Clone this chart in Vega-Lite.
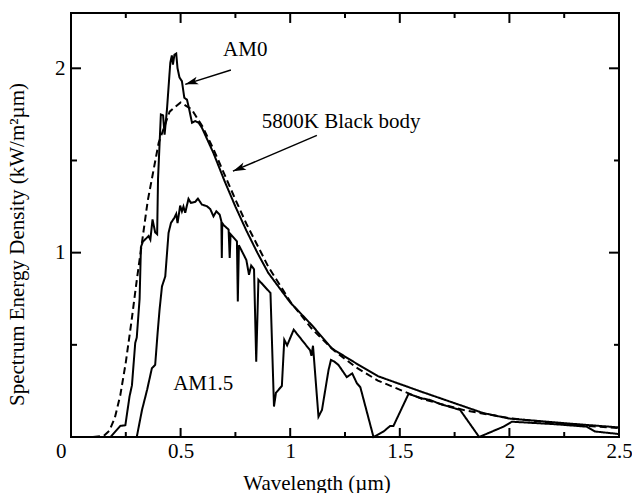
{
 "$schema": "https://vega.github.io/schema/vega-lite/v6.json",
 "width": 548, "height": 424,
 "autosize": {"type": "none"},
 "padding": {"left": 71, "top": 13, "right": 13, "bottom": 56},
 "background": "white",
 "config": {
  "view": {"stroke": "black", "strokeWidth": 2},
  "font": "Liberation Serif",
  "axis": {"domain": false, "grid": false, "ticks": false,
   "labelColor": "black", "labelFont": "Liberation Serif", "labelFontSize": 21,
   "titleFont": "Liberation Serif", "titleFontSize": 21, "titleFontWeight": "normal", "titleColor": "black",
   "labelOverlap": false, "labelFlush": false}
 },
 "datasets": {
  "spectra": [
   {"series":"AM0","wl":0,"val":0},{"series":"AM0","wl":0.18,"val":0},{"series":"AM0","wl":0.225,"val":0.06},{"series":"AM0","wl":0.248,"val":0.064},{"series":"AM0","wl":0.267,"val":0.22},{"series":"AM0","wl":0.278,"val":0.28},{"series":"AM0","wl":0.293,"val":0.51},{"series":"AM0","wl":0.3,"val":0.54},{"series":"AM0","wl":0.313,"val":0.75},{"series":"AM0","wl":0.319,"val":1.03},{"series":"AM0","wl":0.328,"val":1.06},{"series":"AM0","wl":0.354,"val":1.09},{"series":"AM0","wl":0.362,"val":1.07},{"series":"AM0","wl":0.372,"val":1.18},{"series":"AM0","wl":0.384,"val":1.11},{"series":"AM0","wl":0.393,"val":1.1},{"series":"AM0","wl":0.397,"val":1.4},{"series":"AM0","wl":0.41,"val":1.75},{"series":"AM0","wl":0.42,"val":1.745},{"series":"AM0","wl":0.427,"val":1.64},{"series":"AM0","wl":0.438,"val":1.78},{"series":"AM0","wl":0.453,"val":2.03},{"series":"AM0","wl":0.46,"val":2.07},{"series":"AM0","wl":0.465,"val":2.02},{"series":"AM0","wl":0.472,"val":2.074},{"series":"AM0","wl":0.48,"val":2.08},{"series":"AM0","wl":0.486,"val":2.0},{"series":"AM0","wl":0.495,"val":1.95},{"series":"AM0","wl":0.506,"val":1.93},{"series":"AM0","wl":0.517,"val":1.84},{"series":"AM0","wl":0.529,"val":1.83},{"series":"AM0","wl":0.536,"val":1.795},{"series":"AM0","wl":0.552,"val":1.705},{"series":"AM0","wl":0.567,"val":1.714},{"series":"AM0","wl":0.582,"val":1.705},{"series":"AM0","wl":0.597,"val":1.678},{"series":"AM0","wl":0.65,"val":1.54},{"series":"AM0","wl":0.7,"val":1.39},{"series":"AM0","wl":0.75,"val":1.25},{"series":"AM0","wl":0.8,"val":1.12},{"series":"AM0","wl":0.85,"val":1.0},{"series":"AM0","wl":0.9,"val":0.89},{"series":"AM0","wl":0.95,"val":0.81},{"series":"AM0","wl":1.0,"val":0.73},{"series":"AM0","wl":1.1,"val":0.605},{"series":"AM0","wl":1.19,"val":0.48},{"series":"AM0","wl":1.3,"val":0.4},{"series":"AM0","wl":1.4,"val":0.33},{"series":"AM0","wl":1.6,"val":0.245},{"series":"AM0","wl":1.88,"val":0.13},{"series":"AM0","wl":2.0,"val":0.1},{"series":"AM0","wl":2.25,"val":0.075},{"series":"AM0","wl":2.5,"val":0.052},

   {"series":"BB","wl":0,"val":0},{"series":"BB","wl":0.1,"val":0},{"series":"BB","wl":0.15,"val":0.007},{"series":"BB","wl":0.175,"val":0.034},{"series":"BB","wl":0.2,"val":0.104},{"series":"BB","wl":0.225,"val":0.227},{"series":"BB","wl":0.25,"val":0.405},{"series":"BB","wl":0.275,"val":0.619},{"series":"BB","wl":0.3,"val":0.85},{"series":"BB","wl":0.35,"val":1.281},{"series":"BB","wl":0.4,"val":1.596},{"series":"BB","wl":0.45,"val":1.765},{"series":"BB","wl":0.5,"val":1.815},{"series":"BB","wl":0.55,"val":1.778},{"series":"BB","wl":0.6,"val":1.684},{"series":"BB","wl":0.65,"val":1.561},{"series":"BB","wl":0.7,"val":1.425},{"series":"BB","wl":0.75,"val":1.288},{"series":"BB","wl":0.8,"val":1.157},{"series":"BB","wl":0.9,"val":0.924},{"series":"BB","wl":1.0,"val":0.735},{"series":"BB","wl":1.1,"val":0.585},{"series":"BB","wl":1.2,"val":0.469},{"series":"BB","wl":1.3,"val":0.378},{"series":"BB","wl":1.4,"val":0.306},{"series":"BB","wl":1.6,"val":0.207},{"series":"BB","wl":1.8,"val":0.1435},{"series":"BB","wl":2.0,"val":0.1025},{"series":"BB","wl":2.25,"val":0.0694},{"series":"BB","wl":2.5,"val":0.0487},

   {"series":"AM1.5","wl":0,"val":0},{"series":"AM1.5","wl":0.3,"val":0},{"series":"AM1.5","wl":0.324,"val":0.147},{"series":"AM1.5","wl":0.347,"val":0.255},{"series":"AM1.5","wl":0.369,"val":0.373},{"series":"AM1.5","wl":0.384,"val":0.391},{"series":"AM1.5","wl":0.395,"val":0.563},{"series":"AM1.5","wl":0.404,"val":0.69},{"series":"AM1.5","wl":0.415,"val":0.817},{"series":"AM1.5","wl":0.43,"val":0.871},{"series":"AM1.5","wl":0.445,"val":1.107},{"series":"AM1.5","wl":0.456,"val":1.161},{"series":"AM1.5","wl":0.471,"val":1.188},{"series":"AM1.5","wl":0.48,"val":1.21},{"series":"AM1.5","wl":0.486,"val":1.16},{"series":"AM1.5","wl":0.498,"val":1.255},{"series":"AM1.5","wl":0.506,"val":1.224},{"series":"AM1.5","wl":0.513,"val":1.25},{"series":"AM1.5","wl":0.521,"val":1.216},{"series":"AM1.5","wl":0.536,"val":1.292},{"series":"AM1.5","wl":0.547,"val":1.27},{"series":"AM1.5","wl":0.567,"val":1.276},{"series":"AM1.5","wl":0.579,"val":1.293},{"series":"AM1.5","wl":0.597,"val":1.261},{"series":"AM1.5","wl":0.62,"val":1.252},{"series":"AM1.5","wl":0.635,"val":1.237},{"series":"AM1.5","wl":0.65,"val":1.197},{"series":"AM1.5","wl":0.663,"val":1.224},{"series":"AM1.5","wl":0.678,"val":1.207},{"series":"AM1.5","wl":0.686,"val":1.17},{"series":"AM1.5","wl":0.688,"val":0.971},{"series":"AM1.5","wl":0.69,"val":1.16},{"series":"AM1.5","wl":0.696,"val":1.15},{"series":"AM1.5","wl":0.719,"val":1.125},{"series":"AM1.5","wl":0.724,"val":0.971},{"series":"AM1.5","wl":0.728,"val":1.1},{"series":"AM1.5","wl":0.757,"val":1.061},{"series":"AM1.5","wl":0.761,"val":0.735},{"series":"AM1.5","wl":0.766,"val":1.04},{"series":"AM1.5","wl":0.8,"val":0.96},{"series":"AM1.5","wl":0.812,"val":0.88},{"series":"AM1.5","wl":0.822,"val":0.93},{"series":"AM1.5","wl":0.835,"val":0.91},{"series":"AM1.5","wl":0.845,"val":0.409},{"series":"AM1.5","wl":0.855,"val":0.853},{"series":"AM1.5","wl":0.91,"val":0.781},{"series":"AM1.5","wl":0.926,"val":0.165},{"series":"AM1.5","wl":0.935,"val":0.24},{"series":"AM1.5","wl":0.962,"val":0.277},{"series":"AM1.5","wl":0.973,"val":0.527},{"series":"AM1.5","wl":0.986,"val":0.497},{"series":"AM1.5","wl":1.016,"val":0.582},{"series":"AM1.5","wl":1.091,"val":0.47},{"series":"AM1.5","wl":1.097,"val":0.44},{"series":"AM1.5","wl":1.104,"val":0.495},{"series":"AM1.5","wl":1.129,"val":0.11},{"series":"AM1.5","wl":1.145,"val":0.147},{"series":"AM1.5","wl":1.175,"val":0.364},{"series":"AM1.5","wl":1.186,"val":0.418},{"series":"AM1.5","wl":1.2,"val":0.41},{"series":"AM1.5","wl":1.22,"val":0.391},{"series":"AM1.5","wl":1.258,"val":0.325},{"series":"AM1.5","wl":1.283,"val":0.345},{"series":"AM1.5","wl":1.304,"val":0.292},{"series":"AM1.5","wl":1.32,"val":0.27},{"series":"AM1.5","wl":1.38,"val":0},{"series":"AM1.5","wl":1.425,"val":0.029},{"series":"AM1.5","wl":1.456,"val":0.06},{"series":"AM1.5","wl":1.471,"val":0.06},{"series":"AM1.5","wl":1.54,"val":0.234},{"series":"AM1.5","wl":1.6,"val":0.21},{"series":"AM1.5","wl":1.638,"val":0.201},{"series":"AM1.5","wl":1.684,"val":0.179},{"series":"AM1.5","wl":1.775,"val":0.147},{"series":"AM1.5","wl":1.862,"val":0},{"series":"AM1.5","wl":1.973,"val":0.056},{"series":"AM1.5","wl":2.011,"val":0.083},{"series":"AM1.5","wl":2.2,"val":0.07},{"series":"AM1.5","wl":2.353,"val":0.056},{"series":"AM1.5","wl":2.39,"val":0.03},{"series":"AM1.5","wl":2.5,"val":0.016}
  ],
  "labels": [
   {"label":"AM0","x":0.795,"y":2.1},
   {"label":"5800K Black body","x":1.2325,"y":1.71},
   {"label":"AM1.5","x":0.603,"y":0.285}
  ],
  "arrows": [
   {"name":"am0","x":0.7296,"y":1.991,"x2":0.5212,"y2":1.913},
   {"name":"bb","x":1.1218,"y":1.636,"x2":0.7387,"y2":1.442}
  ],
  "xmajor": [{"v":0.5},{"v":1},{"v":1.5},{"v":2}],
  "xminor": [{"v":0.25},{"v":0.75},{"v":1.25},{"v":1.75},{"v":2.25}],
  "ymajor": [{"v":1},{"v":2}],
  "yminor": [{"v":0.5},{"v":1.5}]
 },
 "layer": [
  {
   "data": {"name": "spectra"},
   "mark": {"type": "line", "color": "black", "strokeWidth": 2},
   "encoding": {
    "x": {"field": "wl", "type": "quantitative", "scale": {"domain": [0, 2.5], "nice": false, "zero": false},
     "axis": {"orient": "bottom", "values": [0,0.5,1,1.5,2,2.5],
      "labelExpr": "'' + datum.value",
      "labelPadding": 3,
      "labelAlign": {"condition": {"test": "datum.value == 0", "value": "right"}, "value": "center"},
      "labelOffset": {"condition": {"test": "datum.value == 0", "value": -5}, "value": 0},
      "title": "Wavelength (µm)", "titleX": 245.5, "titleY": 52, "titleBaseline": "alphabetic", "titleAlign": "center", "titleAnchor": null}},
    "y": {"field": "val", "type": "quantitative", "scale": {"domain": [0, 2.3], "nice": false},
     "axis": {"orient": "left", "values": [0,1,2],
      "labelExpr": "datum.value > 0 ? '' + datum.value : ''",
      "labelPadding": 6,
      "title": "Spectrum Energy Density (kW/m²µm)", "titleX": -54, "titleY": 231, "titleAngle": 270,
      "titleBaseline": "middle", "titleAlign": "center", "titleAnchor": null}},
    "strokeDash": {"field": "series", "type": "nominal",
     "scale": {"domain": ["AM0", "AM1.5", "BB"], "range": [[1,0],[1,0],[7,4]]}, "legend": null}
   }
  },
  {
   "data": {"name": "labels"},
   "mark": {"type": "text", "font": "Liberation Serif", "fontSize": 21, "color": "black", "align": "center", "baseline": "middle"},
   "encoding": {
    "x": {"field": "x", "type": "quantitative", "axis": null},
    "y": {"field": "y", "type": "quantitative", "axis": null},
    "text": {"field": "label"}
   }
  },
  {
   "data": {"name": "arrows"},
   "mark": {"type": "rule", "color": "black", "strokeWidth": 1.5},
   "encoding": {
    "x": {"field": "x", "type": "quantitative", "axis": null},
    "y": {"field": "y", "type": "quantitative", "axis": null},
    "x2": {"field": "x2"},
    "y2": {"field": "y2"}
   }
  },
  {
   "data": {"name": "arrows"},
   "transform": [{"filter": "datum.name == 'am0'"}],
   "mark": {"type": "point", "shape": "M0,0 L-2,-0.6 L-1.5,0 L-2,0.6 Z", "size": 170, "filled": true, "color": "black", "opacity": 1, "strokeWidth": 0, "angle": 162.6},
   "encoding": {
    "x": {"field": "x2", "type": "quantitative", "axis": null},
    "y": {"field": "y2", "type": "quantitative", "axis": null}
   }
  },
  {
   "data": {"name": "arrows"},
   "transform": [{"filter": "datum.name == 'bb'"}],
   "mark": {"type": "point", "shape": "M0,0 L-2,-0.6 L-1.5,0 L-2,0.6 Z", "size": 170, "filled": true, "color": "black", "opacity": 1, "strokeWidth": 0, "angle": 157},
   "encoding": {
    "x": {"field": "x2", "type": "quantitative", "axis": null},
    "y": {"field": "y2", "type": "quantitative", "axis": null}
   }
  },
  {
   "data": {"name": "xmajor"},
   "mark": {"type": "rule", "color": "black", "strokeWidth": 2},
   "encoding": {"x": {"field": "v", "type": "quantitative", "axis": null}, "y": {"datum": 0, "type": "quantitative", "axis": null}, "y2": {"datum": 0.049}}
  },
  {
   "data": {"name": "xmajor"},
   "mark": {"type": "rule", "color": "black", "strokeWidth": 2},
   "encoding": {"x": {"field": "v", "type": "quantitative", "axis": null}, "y": {"datum": 2.3, "type": "quantitative", "axis": null}, "y2": {"datum": 2.246}}
  },
  {
   "data": {"name": "xminor"},
   "mark": {"type": "rule", "color": "black", "strokeWidth": 2},
   "encoding": {"x": {"field": "v", "type": "quantitative", "axis": null}, "y": {"datum": 0, "type": "quantitative", "axis": null}, "y2": {"datum": 0.027}}
  },
  {
   "data": {"name": "xminor"},
   "mark": {"type": "rule", "color": "black", "strokeWidth": 2},
   "encoding": {"x": {"field": "v", "type": "quantitative", "axis": null}, "y": {"datum": 2.3, "type": "quantitative", "axis": null}, "y2": {"datum": 2.273}}
  },
  {
   "data": {"name": "ymajor"},
   "mark": {"type": "rule", "color": "black", "strokeWidth": 2},
   "encoding": {"y": {"field": "v", "type": "quantitative", "axis": null}, "x": {"datum": 0, "type": "quantitative", "axis": null}, "x2": {"datum": 0.0456}}
  },
  {
   "data": {"name": "ymajor"},
   "mark": {"type": "rule", "color": "black", "strokeWidth": 2},
   "encoding": {"y": {"field": "v", "type": "quantitative", "axis": null}, "x": {"datum": 2.5, "type": "quantitative", "axis": null}, "x2": {"datum": 2.4544}}
  },
  {
   "data": {"name": "yminor"},
   "mark": {"type": "rule", "color": "black", "strokeWidth": 2},
   "encoding": {"y": {"field": "v", "type": "quantitative", "axis": null}, "x": {"datum": 0, "type": "quantitative", "axis": null}, "x2": {"datum": 0.0274}}
  },
  {
   "data": {"name": "yminor"},
   "mark": {"type": "rule", "color": "black", "strokeWidth": 2},
   "encoding": {"y": {"field": "v", "type": "quantitative", "axis": null}, "x": {"datum": 2.5, "type": "quantitative", "axis": null}, "x2": {"datum": 2.4772}}
  }
 ],
 "resolve": {"axis": {"x": "independent", "y": "independent"}}
}
